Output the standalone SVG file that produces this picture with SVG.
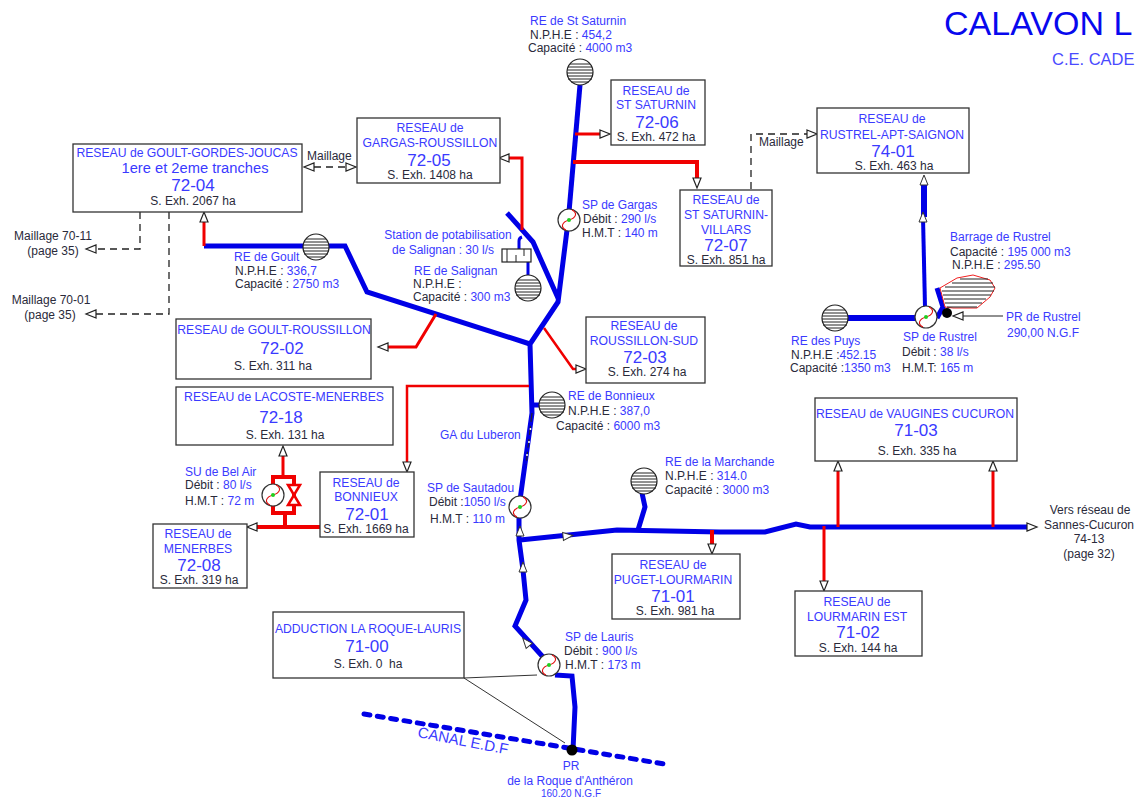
<svg xmlns="http://www.w3.org/2000/svg" xmlns:xlink="http://www.w3.org/1999/xlink" width="1136" height="798" viewBox="0 0 1136 798">
<style>
text{font-family:"Liberation Sans",Arial,sans-serif;font-size:12px;fill:#2a2a3a;white-space:pre}
.b{fill:#3a3aff}
.m{text-anchor:middle}
.h{font-size:12.2px;fill:#3a3aff;text-anchor:middle}
.n{font-size:17px;fill:#3a3aff;text-anchor:middle}
.e{text-anchor:middle}
.box{fill:#fff;stroke:#333;stroke-width:1.3}
.p{fill:none;stroke:#0000e6;stroke-width:5;stroke-linejoin:miter}
.p3{fill:none;stroke:#0000e6;stroke-width:3}
.r{fill:none;stroke:#f00000;stroke-width:3}
.d{fill:none;stroke:#222;stroke-width:1.3;stroke-dasharray:7 5}
.l{fill:none;stroke:#333;stroke-width:1}
.hl{stroke:#222;stroke-width:1}
</style>
<defs>
<marker id="a" markerUnits="userSpaceOnUse" markerWidth="13" markerHeight="10" refX="1" refY="5" orient="auto-start-reverse"><path d="M1 1L11 5L1 9Z" fill="#fff" stroke="#222" stroke-width="1.2"/></marker>
<path id="tri" d="M-5 -4L5 0L-5 4Z" fill="#fff" stroke="#333" stroke-width="1"/>
<g id="tank"><circle r="13" fill="#fff" stroke="#222" stroke-width="1.2"/><path class="hl" d="M-10 -8H10M-12 -5H12M-13 -2H13M-13 1H13M-13 4H13M-12 7H12M-9 10H9"/></g>
<g id="pump"><circle r="11" fill="#fff" stroke="#333" stroke-width="1.2"/><path d="M3 -10C9 -7 7 -2 0 0C-7 2 -9 7 -3 10" fill="none" stroke="#e01010" stroke-width="1.1"/><circle r="2" fill="#20d020"/></g>
</defs>

<g id="connectors">
<path class="p" d="M580 85L569 212"/>
<path class="p" d="M567 230L558 302L530 344L532 413L520 500"/>
<path class="p" d="M507 213L533 242L558 298"/>
<path class="p" d="M204 246H345L367 292L530 344"/>
<path class="p" d="M519 517V540L523 570L526 600L515 626L543 657"/>
<path class="p" d="M555 675L572 676L575 707L573 750"/>
<path class="p" d="M520 540L617 530L720 532H765L796 524L810 527H1027" marker-end="url(#a)"/>
<path class="p" d="M642 493L645 507L638 530"/>
<path class="p" d="M533 405H542"/>
<path class="p" style="stroke-width:6" d="M924 185V217"/>
<path class="p" style="stroke-width:4" d="M923 217L925 307"/>
<path class="p" style="stroke-width:6" d="M848 318H917"/>
<path class="p" d="M937 288L943 307L937 318"/>
<path class="p3" d="M522 237Q519 238 519 241V249M528 262V275"/>
<path d="M532 413L526 465" fill="none" stroke="#223" stroke-width="1.2" stroke-dasharray="9 4"/>
<path d="M530.500 428v2M529 441v2M527 454v2" stroke="#fff" stroke-width="1.500"/>

<path class="r" d="M575 134H600" marker-end="url(#a)"/>
<path class="r" style="stroke-width:4" d="M573 162H697V178" marker-end="url(#a)"/>
<path class="r" d="M522 230V158H509" marker-end="url(#a)"/>
<path class="r" d="M204 246V222" marker-end="url(#a)"/>
<path class="r" d="M436 314L416 347H388" marker-end="url(#a)"/>
<path class="r" style="stroke-width:2.500" d="M544 328L573 369H576" marker-end="url(#a)"/>
<path class="r" style="stroke-width:2.500" d="M529 386H407V462" marker-end="url(#a)"/>
<path class="r" d="M283 477V456" marker-end="url(#a)"/>
<path class="r" style="stroke-width:4" d="M273 495V477H294V513H273V495M285 513V527"/>
<path class="r" style="stroke-width:4" d="M322 527H257" marker-end="url(#a)"/>
<path d="M288 485H300L288 505H300Z" fill="#fff" stroke="#f00000" stroke-width="2.500"/>
<path class="r" d="M838 527V471" marker-end="url(#a)"/>
<path class="r" d="M993 527V471" marker-end="url(#a)"/>
<path class="r" d="M824 526V581" marker-end="url(#a)"/>
<path class="r" style="stroke-width:4" d="M712 530V544" marker-end="url(#a)"/>

<path class="d" d="M314 167H346" marker-start="url(#a)" marker-end="url(#a)"/>
<path class="d" d="M140 212V249H96" marker-end="url(#a)"/>
<path class="d" d="M169 212V314H96" marker-end="url(#a)"/>
<path class="d" d="M751 189V134H807" marker-end="url(#a)"/>
<path d="M1003 316H963" fill="none" stroke="#222" stroke-width="1.200" marker-end="url(#a)"/>
<path class="l" d="M464 678L537 675M464 678L565 743"/>
<path d="M364 714L664 764" fill="none" stroke="#0000e6" stroke-width="5" stroke-dasharray="6 7.500" stroke-linecap="round"/>

<use href="#tri" transform="translate(520 531) rotate(-90)"/>
<use href="#tri" transform="translate(568 536) rotate(-6)"/>
<use href="#tri" transform="translate(523 567) rotate(-90)"/>
<use href="#tri" transform="translate(526 642) rotate(-130)"/>
<use href="#tri" transform="translate(924 180) rotate(-90)"/>
<use href="#tri" transform="translate(923 217) rotate(-90)"/>
</g>

<g id="barrage"><path d="M940 288L957 278L973 275L990 280L995 288L990 297L977 308L953 308L945 307Z" fill="#fff" stroke="#f02020" stroke-width="1"/><path class="hl" d="M960 279H988M952 283H993M945 287H995M942 291H994M943 295H991M944 299H986M945 303H982M947 307H977"/></g>

<g id="t-stsaturnin"><use href="#tank" x="580" y="72"/><text class="b" x="530" y="25">RE de St Saturnin</text><text x="530" y="39">N.P.H.E : <tspan class="b">454,2</tspan></text><text x="528" y="52">Capacité : <tspan class="b">4000 m3</tspan></text></g>
<g id="t-goult"><use href="#tank" x="316" y="247"/><text class="b" x="234" y="261">RE de Goult</text><text x="235" y="275">N.P.H.E : <tspan class="b">336,7</tspan></text><text x="235" y="288">Capacité : <tspan class="b">2750 m3</tspan></text></g>
<g id="t-salignan"><use href="#tank" x="528" y="288"/><text class="b" x="414" y="275">RE de Salignan</text><text x="413" y="288">N.P.H.E :</text><text x="413" y="301">Capacité : <tspan class="b">300 m3</tspan></text></g>
<g id="st-salignan"><rect x="502" y="249" width="29" height="13" fill="#fff" stroke="#222" stroke-width="1.200"/><path class="hl" d="M507 249V262M516 255V262M524 249V256"/><text class="b m" x="448" y="239">Station de potabilisation</text><text class="b m" x="443" y="254">de Salignan : 30 l/s</text></g>
<g id="t-bonnieux"><use href="#tank" x="552" y="405"/><text class="b" x="568" y="400">RE de Bonnieux</text><text x="568" y="415">N.P.H.E : <tspan class="b">387,0</tspan></text><text x="556" y="430">Capacité : <tspan class="b">6000 m3</tspan></text></g>
<g id="t-marchande"><use href="#tank" x="644" y="481"/><text class="b" x="665" y="466">RE de la Marchande</text><text x="665" y="480">N.P.H.E : <tspan class="b">314.0</tspan></text><text x="665" y="494">Capacité : <tspan class="b">3000 m3</tspan></text></g>
<g id="t-puys"><use href="#tank" x="835" y="318"/><text class="b" x="791" y="345">RE des Puys</text><text x="791" y="359">N.P.H.E :<tspan class="b">452.15</tspan></text><text x="790" y="372">Capacité :<tspan class="b">1350 m3</tspan></text></g>

<g id="sp-gargas"><use href="#pump" x="569" y="220"/><text class="b" x="582" y="209">SP de Gargas</text><text x="583" y="223">Débit : <tspan class="b">290 l/s</tspan></text><text x="582" y="237">H.M.T : <tspan class="b">140 m</tspan></text></g>
<g id="sp-rustrel"><use href="#pump" x="926" y="317"/><text class="b" x="903" y="341">SP de Rustrel</text><text x="902" y="356">Débit : <tspan class="b">38 l/s</tspan></text><text x="902" y="372">H.M.T: <tspan class="b">165 m</tspan></text></g>
<g id="sp-sautadou"><use href="#pump" x="520" y="507"/><text class="b" x="427" y="492">SP de Sautadou</text><text x="429" y="506">Débit :<tspan class="b">1050 l/s</tspan></text><text x="430" y="523">H.M.T : <tspan class="b">110 m</tspan></text></g>
<g id="sp-lauris"><use href="#pump" x="549" y="665"/><text class="b" x="565" y="641">SP de Lauris</text><text x="564" y="655">Débit : <tspan class="b">900 l/s</tspan></text><text x="565" y="669">H.M.T : <tspan class="b">173 m</tspan></text></g>
<g id="su-belair"><use href="#pump" x="273" y="495"/><text class="b" x="185" y="476">SU de Bel Air</text><text x="185" y="489">Débit : <tspan class="b">80 l/s</tspan></text><text x="185" y="505">H.M.T : <tspan class="b">72 m</tspan></text></g>
<g id="pr-rustrel"><circle cx="947" cy="313" r="5" fill="#000"/><text class="b" x="1006" y="321">PR de Rustrel</text><text class="b" x="1007" y="337">290,00 N.G.F</text></g>
<g id="barrage-l"><text class="b" x="950" y="241">Barrage de Rustrel</text><text x="950" y="256">Capacité : <tspan class="b">195 000 m3</tspan></text><text x="952" y="269">N.P.H.E : <tspan class="b">295.50</tspan></text></g>
<g id="pr-roque"><circle cx="572" cy="750" r="5.500" fill="#000"/><text class="b m" x="571" y="770">PR</text><text class="b m" x="570" y="785">de la Roque d'Anthéron</text><text class="b m" x="571" y="797" style="font-size:10px">160.20 N.G.F</text></g>

<g id="n7204"><rect class="box" x="73" y="144" width="229" height="68"/><text class="h" x="187" y="157">RESEAU de GOULT-GORDES-JOUCAS</text><text class="n" x="195" y="173" style="font-size:14.700px">1ere et 2eme tranches</text><text class="n" x="193" y="191">72-04</text><text class="e" x="193" y="205">S. Exh. 2067 ha</text></g>
<g id="n7205"><rect class="box" x="357" y="118" width="143" height="65"/><text class="h" x="430" y="132">RESEAU de</text><text class="h" x="430" y="147">GARGAS-ROUSSILLON</text><text class="n" x="429" y="166">72-05</text><text class="e" x="430" y="179">S. Exh. 1408 ha</text></g>
<g id="n7206"><rect class="box" x="611" y="80" width="94" height="65"/><text class="h" x="656" y="95">RESEAU de</text><text class="h" x="656" y="109">ST SATURNIN</text><text class="n" x="657" y="128">72-06</text><text class="e" x="656" y="141">S. Exh. 472 ha</text></g>
<g id="n7207"><rect class="box" x="680" y="190" width="92" height="76"/><text class="h" x="726" y="204">RESEAU de</text><text class="h" x="726" y="219">ST SATURNIN-</text><text class="h" x="726" y="234">VILLARS</text><text class="n" x="726" y="251">72-07</text><text class="e" x="726" y="264">S. Exh. 851 ha</text></g>
<g id="n7401"><rect class="box" x="817" y="108" width="152" height="65"/><text class="h" x="892" y="123">RESEAU de</text><text class="h" x="892" y="139">RUSTREL-APT-SAIGNON</text><text class="n" x="893" y="157">74-01</text><text class="e" x="894" y="170">S. Exh. 463 ha</text></g>
<g id="n7202"><rect class="box" x="176" y="319" width="195" height="60"/><text class="h" x="274" y="334">RESEAU de GOULT-ROUSSILLON</text><text class="n" x="282" y="354">72-02</text><text class="e" x="273" y="370">S. Exh. 311 ha</text></g>
<g id="n7203"><rect class="box" x="586" y="317" width="119" height="66"/><text class="h" x="644" y="330">RESEAU de</text><text class="h" x="644" y="345">ROUSSILLON-SUD</text><text class="n" x="645" y="363">72-03</text><text class="e" x="647" y="376">S. Exh. 274 ha</text></g>
<g id="n7218"><rect class="box" x="176" y="387" width="217" height="58"/><text class="h" x="284" y="401">RESEAU de LACOSTE-MENERBES</text><text class="n" x="281" y="423">72-18</text><text class="e" x="285" y="439">S. Exh. 131 ha</text></g>
<g id="n7201"><rect class="box" x="320" y="472" width="94" height="65"/><text class="h" x="366" y="487">RESEAU de</text><text class="h" x="366" y="501">BONNIEUX</text><text class="n" x="367" y="520">72-01</text><text class="e" x="366" y="533">S. Exh. 1669 ha</text></g>
<g id="n7208"><rect class="box" x="153" y="524" width="94" height="64"/><text class="h" x="198" y="538">RESEAU de</text><text class="h" x="198" y="553">MENERBES</text><text class="n" x="199" y="571">72-08</text><text class="e" x="199" y="584">S. Exh. 319 ha</text></g>
<g id="n7100"><rect class="box" x="273" y="612" width="191" height="66"/><text class="h" x="368" y="633">ADDUCTION LA ROQUE-LAURIS</text><text class="n" x="367" y="652">71-00</text><text class="e" x="368" y="668">S. Exh. 0  ha</text></g>
<g id="n7101"><rect class="box" x="612" y="554" width="128" height="65"/><text class="h" x="673" y="569">RESEAU de</text><text class="h" x="673" y="584">PUGET-LOURMARIN</text><text class="n" x="673" y="602">71-01</text><text class="e" x="675" y="615">S. Exh. 981 ha</text></g>
<g id="n7103"><rect class="box" x="815" y="398" width="202" height="63"/><text class="h" x="915" y="418">RESEAU de VAUGINES CUCURON</text><text class="n" x="916" y="436">71-03</text><text class="e" x="917" y="455">S. Exh. 335 ha</text></g>
<g id="n7102"><rect class="box" x="795" y="591" width="127" height="65"/><text class="h" x="857" y="606">RESEAU de</text><text class="h" x="857" y="621">LOURMARIN EST</text><text class="n" x="858" y="638">71-02</text><text class="e" x="858" y="652">S. Exh. 144 ha</text></g>

<g id="labels">
<text x="307" y="160">Maillage</text>
<text x="759" y="146">Maillage</text>
<text class="e" x="53" y="240">Maillage 70-11</text><text class="e" x="53" y="255">(page 35)</text>
<text class="e" x="51" y="304">Maillage 70-01</text><text class="e" x="50" y="319">(page 35)</text>
<text class="b" x="440" y="439">GA du Luberon</text>
<text class="e" x="1090" y="514">Vers réseau de</text><text class="e" x="1089" y="529">Sannes-Cucuron</text><text class="e" x="1089" y="543">74-13</text><text class="e" x="1089" y="558">(page 32)</text>
<text class="b" transform="translate(417 737) rotate(11)" style="font-size:15px">CANAL E.D.F</text>
<text x="944" y="35" style="font-size:34px;fill:#0808ee">CALAVON L</text>
<text x="1052" y="65" style="font-size:16.500px;fill:#4a4aff">C.E. CADE</text>
</g>
</svg>
